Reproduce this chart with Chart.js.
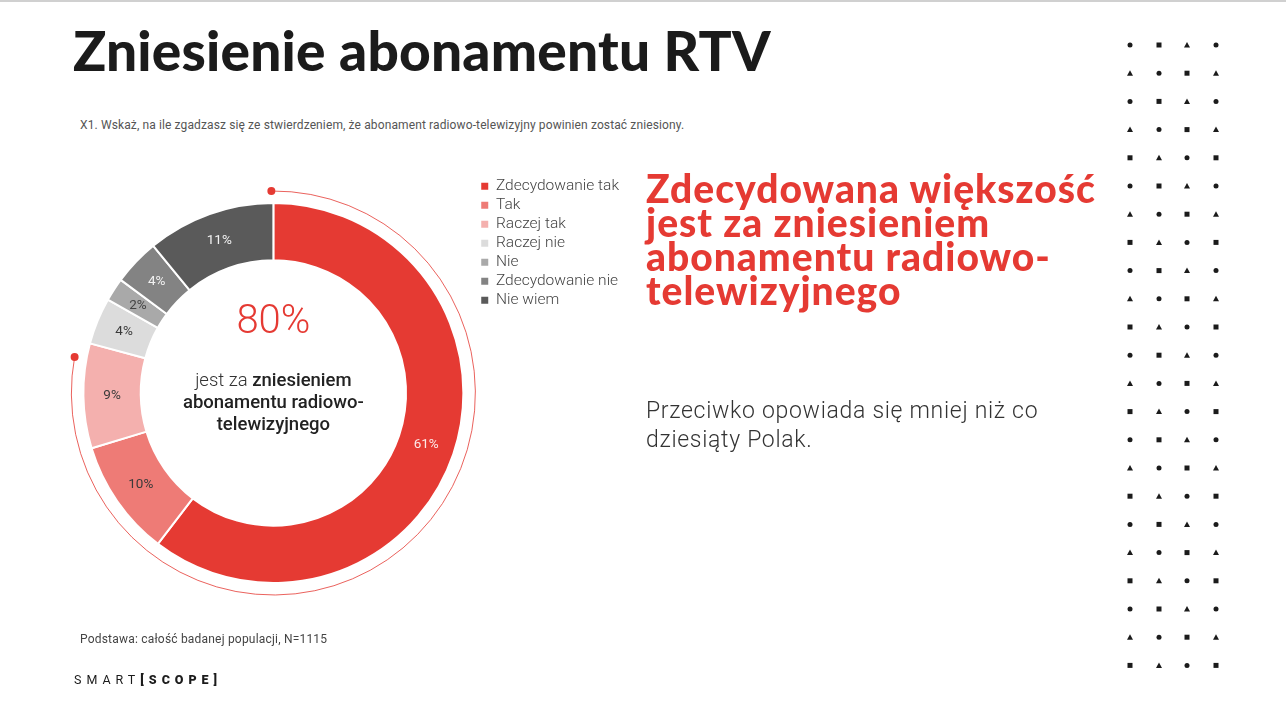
<!DOCTYPE html>
<html>
<head>
<meta charset="utf-8">
<script src="https://cdn.jsdelivr.net/npm/chart.js@4"></script>
<style>
  html, body { margin: 0; padding: 0; background: #fff; }
  body { width: 1286px; height: 724px; position: relative; overflow: hidden; font-family: Roboto, sans-serif; }
  .topline { position: absolute; left: 0; top: 0; width: 1286px; height: 2px; background: #d0d0d0; }
  h1 { position: absolute; left: 73px; top: 17px; margin: 0; font: 900 55px Lato, sans-serif; color: #1b1b1b; letter-spacing: 0.2px; }
  .question { position: absolute; left: 80px; top: 118px; font-size: 12px; color: #555; letter-spacing: 0.12px; }
  #chart { position: absolute; left: 0; top: 0; }
  .headline { position: absolute; left: 646px; top: 171px; margin: 0; font: 900 39px/34px Lato, sans-serif; color: #e53a33; letter-spacing: 1px; }
  .para { position: absolute; left: 646px; top: 396px; font-weight: 300; font-size: 23px; line-height: 29px; color: #333; letter-spacing: 0.7px; }
  .base { position: absolute; left: 80px; top: 632px; font-size: 12px; color: #444; letter-spacing: 0.2px; }
  .logo { position: absolute; left: 74px; top: 672px; font-size: 12.5px; letter-spacing: 5px; color: #1b1b1b; }
  .logo b { font-weight: 900; }
  #dots { position: absolute; left: 1110px; top: 30px; }
</style>
</head>
<body>
<div class="topline"></div>
<h1>Zniesienie abonamentu RTV</h1>
<div class="question">X1. Wskaż, na ile zgadzasz się ze stwierdzeniem, że abonament radiowo-telewizyjny powinien zostać zniesiony.</div>
<canvas id="chart" width="660" height="724"></canvas>
<div class="headline">Zdecydowana większość<br>jest za zniesieniem<br>abonamentu radiowo-<br>telewizyjnego</div>
<div class="para">Przeciwko opowiada się mniej niż co<br>dziesiąty Polak.</div>
<div class="base">Podstawa: całość badanej populacji, N=1115</div>
<div class="logo">SMART<b>[SCOPE]</b></div>
<canvas id="dots" width="130" height="660"></canvas>
<script>
var answers = ['Zdecydowanie tak', 'Tak', 'Raczej tak', 'Raczej nie', 'Nie', 'Zdecydowanie nie', 'Nie wiem'];
var shares = [61, 10, 9, 4, 2, 4, 11];
var sliceColors = ['#e53a33', '#ee7b76', '#f4b0ae', '#dcdcdc', '#a9a9a9', '#838383', '#5a5a5a'];
var labelColors = ['#fde9e8', '#3a3a3a', '#3a3a3a', '#3a3a3a', '#444444', '#f2f2f2', '#f2f2f2'];
// how many of the first answers count as "for"
var forCount = 3;

// percentage labels in the middle of every slice
var sliceLabels = {
  id: 'sliceLabels',
  afterDatasetsDraw: function(chart) {
    var ctx = chart.ctx;
    var meta = chart.getDatasetMeta(0);
    ctx.save();
    ctx.font = '13.5px Roboto';
    ctx.textAlign = 'center';
    ctx.textBaseline = 'middle';
    meta.data.forEach(function(arc, i) {
      var p = arc.tooltipPosition();
      ctx.fillStyle = labelColors[i];
      ctx.fillText(shares[i] + '%', p.x, p.y);
    });
    ctx.restore();
  }
};

// total in the hole plus the thin arc round the "for" part
var centerInfo = {
  id: 'centerInfo',
  afterDatasetsDraw: function(chart) {
    var ctx = chart.ctx;
    var arc0 = chart.getDatasetMeta(0).data[0];
    var cx = arc0.x, cy = arc0.y;
    var total = shares.reduce(function(a, b) { return a + b; }, 0);
    var forSum = shares.slice(0, forCount).reduce(function(a, b) { return a + b; }, 0);

    ctx.save();
    ctx.textAlign = 'center';
    ctx.textBaseline = 'middle';
    ctx.fillStyle = '#e53a33';
    ctx.font = '300 40px Roboto';
    ctx.fillText(forSum + '%', cx, cy - 70);

    var l1a = 'jest za ', l1b = 'zniesieniem';
    ctx.font = '300 18.5px Roboto';
    var wa = ctx.measureText(l1a).width;
    ctx.font = '500 18.5px Roboto';
    var wb = ctx.measureText(l1b).width;
    var x0 = cx - (wa + wb) / 2;
    ctx.textAlign = 'left';
    ctx.font = '300 18.5px Roboto';
    ctx.fillStyle = '#333';
    ctx.fillText(l1a, x0, cy - 12);
    ctx.font = '500 18.5px Roboto';
    ctx.fillStyle = '#222';
    ctx.fillText(l1b, x0 + wa, cy - 12);
    ctx.textAlign = 'center';
    ctx.fillText('abonamentu radiowo-', cx, cy + 10);
    ctx.fillText('telewizyjnego', cx, cy + 32);

    // the arc
    var r = arc0.outerRadius + 12;
    var a0 = arc0.startAngle - 0.01;
    var a1 = arc0.startAngle + (forSum / total) * Math.PI * 2 - 0.085;
    ctx.strokeStyle = '#e53a33';
    ctx.lineWidth = 0.8;
    ctx.beginPath();
    ctx.arc(cx, cy, r, a0, a1);
    ctx.stroke();
    ctx.fillStyle = '#e53a33';
    [a0, a1].forEach(function(a) {
      ctx.beginPath();
      ctx.arc(cx + r * Math.cos(a), cy + r * Math.sin(a), 4, 0, Math.PI * 2);
      ctx.fill();
    });
    ctx.restore();
  }
};

var myChart = new Chart(document.getElementById('chart').getContext('2d'), {
  type: 'doughnut',
  data: {
    labels: answers,
    datasets: [{
      data: shares,
      backgroundColor: sliceColors,
      borderColor: '#ffffff',
      borderWidth: 2,
      radius: 190,
      cutout: 142
    }]
  },
  options: {
    responsive: false,
    animation: false,
    layout: { padding: { top: 175, bottom: 113, left: 69, right: 31 } },
    plugins: {
      tooltip: { enabled: false },
      legend: {
        position: 'right',
        align: 'start',
        labels: {
          boxWidth: 7,
          boxHeight: 7,
          padding: 3.5,
          color: '#444',
          font: { family: 'Roboto', size: 15.5, weight: '300' },
          generateLabels: function(chart) {
            var items = Chart.overrides.doughnut.plugins.legend.labels.generateLabels(chart);
            items.forEach(function(it) { it.lineWidth = 0; });
            return items;
          }
        }
      }
    }
  },
  plugins: [sliceLabels, centerInfo]
});

// decorative marker grid on the right
var dctx = document.getElementById('dots').getContext('2d');
var colX = [20, 49, 77, 106];
var rowCount = 23, rowStep = 28.2;
dctx.fillStyle = '#1b1b1b';
function mark(shape, x, y) {
  dctx.beginPath();
  if (shape === 0) {
    dctx.arc(x, y, 2.5, 0, Math.PI * 2);
  } else if (shape === 1) {
    dctx.rect(x - 2.5, y - 2.5, 5, 5);
  } else {
    dctx.moveTo(x, y - 3); dctx.lineTo(x + 3, y + 2.5); dctx.lineTo(x - 3, y + 2.5); dctx.closePath();
  }
  dctx.fill();
}
for (var r = 0; r < rowCount; r++) {
  var start = r < 2 ? [0, 2][r] : [0, 2, 1][(r - 2) % 3];
  for (var c = 0; c < 4; c++) {
    mark((start + c) % 3, colX[c], 15 + r * rowStep);
  }
}
</script>
</body>
</html>
